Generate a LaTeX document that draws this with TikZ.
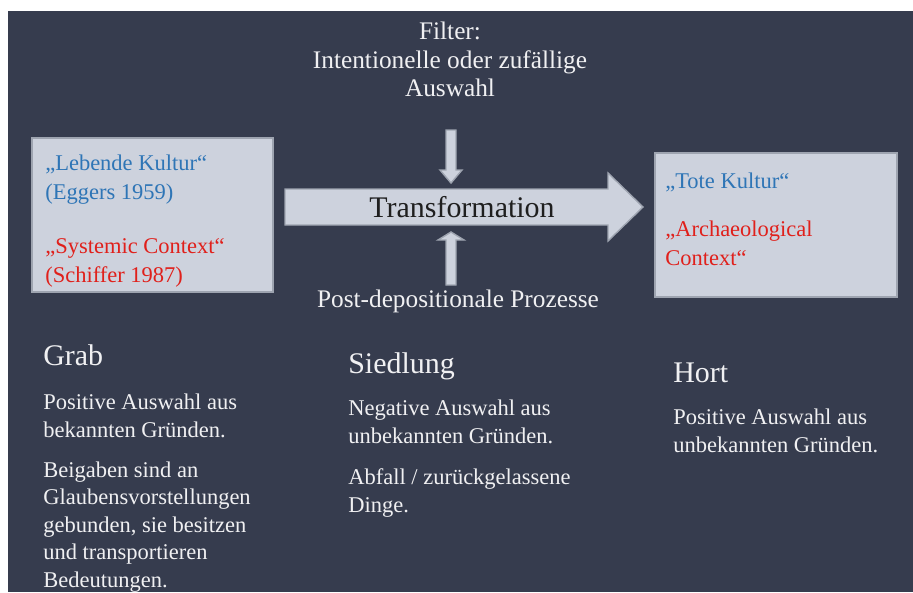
\documentclass[tikz,border=0pt]{standalone}
\usepackage{fontspec}
\setmainfont{Liberation Serif}
\usetikzlibrary{positioning}
\definecolor{slideBg}{HTML}{363C4E}
\definecolor{paleBox}{HTML}{CDD2DD}
\definecolor{paleEdge}{HTML}{9EA4B0}
\definecolor{liveBlue}{HTML}{2E75B6}
\definecolor{ctxRed}{HTML}{E0201B}
\definecolor{lightText}{HTML}{F0F0F2}
\tikzstyle{paleshape} =[fill=paleBox, draw=paleEdge, line width=1pt]
\tikzstyle{boxtext} =[anchor=north west, align=left, inner sep=0pt, font=\fontsize{16}{20.5}\selectfont]
\tikzstyle{headline} =[anchor=base west, inner sep=0pt, text=lightText, font=\fontsize{21.3}{25}\selectfont]
\tikzstyle{bodytext} =[anchor=north west, align=left, inner sep=0pt, text=lightText, font=\fontsize{16}{19.5}\selectfont]
\tikzstyle{sidelabel} =[inner sep=0pt, align=center, text=lightText, font=\fontsize{18}{20.3}\selectfont]

\begin{document}
\begin{tikzpicture}[x=0.025cm, y=-0.025cm]
\fill[white] (0,0) rectangle (913,592);
\fill[slideBg] (8,11) rectangle (913,592);

\node (liveBox) [paleshape, minimum width=6.025cm, minimum height=3.85cm] at (152.5,215) {};
\node (deadBox) [paleshape, minimum width=6.05cm, minimum height=3.6cm] at (776,225) {};

\node (liveName) [boxtext, text=liveBlue] at (45,155) {„Lebende Kultur“\\(Eggers 1959)};
\node (liveContext) [boxtext, text=ctxRed] at (45,238) {„Systemic Context“\\(Schiffer 1987)};
\node (deadName) [boxtext, text=liveBlue] at (665,173) {„Tote Kultur“};
\node (deadContext) [boxtext, text=ctxRed] at (665,221) {„Archaeological\\Context“};

% transformation arrow with filter and post-depositional arrows
\draw[paleshape] (285,189) -- (608,189) -- (608,173) -- (643,207) -- (608,241) -- (608,225) -- (285,225) -- cycle;
\node (transformText) [anchor=base, inner sep=0pt, text=black!88, font=\fontsize{21.3}{25}\selectfont] at (462,217) {Transformation};

\draw[paleshape] (446,130) -- (456,130) -- (456,170) -- (462,170) -- (451,183) -- (440,170) -- (446,170) -- cycle;
\draw[paleshape] (446,285) -- (456,285) -- (456,240) -- (464,240) -- (451,232) -- (438,240) -- (446,240) -- cycle;

\node (filterText) [sidelabel, anchor=north] at (450,22) {Filter:\\Intentionelle oder zufällige\\Auswahl};
\node (postText) [sidelabel, anchor=base] at (458,307) {Post-depositionale Prozesse};

\node (grabHead) [headline] at (43,365) {Grab};
\node (grabText) [bodytext] at (43,394) {Positive Auswahl aus\\bekannten Gründen.\\[9pt]Beigaben sind an\\Glaubensvorstellungen\\gebunden, sie besitzen\\und transportieren\\Bedeutungen.};

\node (siedlungHead) [headline] at (348,373) {Siedlung};
\node (siedlungText) [bodytext] at (348,400) {Negative Auswahl aus\\unbekannten Gründen.\\[10pt]Abfall / zurückgelassene\\Dinge.};

\node (hortHead) [headline] at (673,382) {Hort};
\node (hortText) [bodytext] at (673,409) {Positive Auswahl aus\\unbekannten Gründen.};
\end{tikzpicture}
\end{document}
